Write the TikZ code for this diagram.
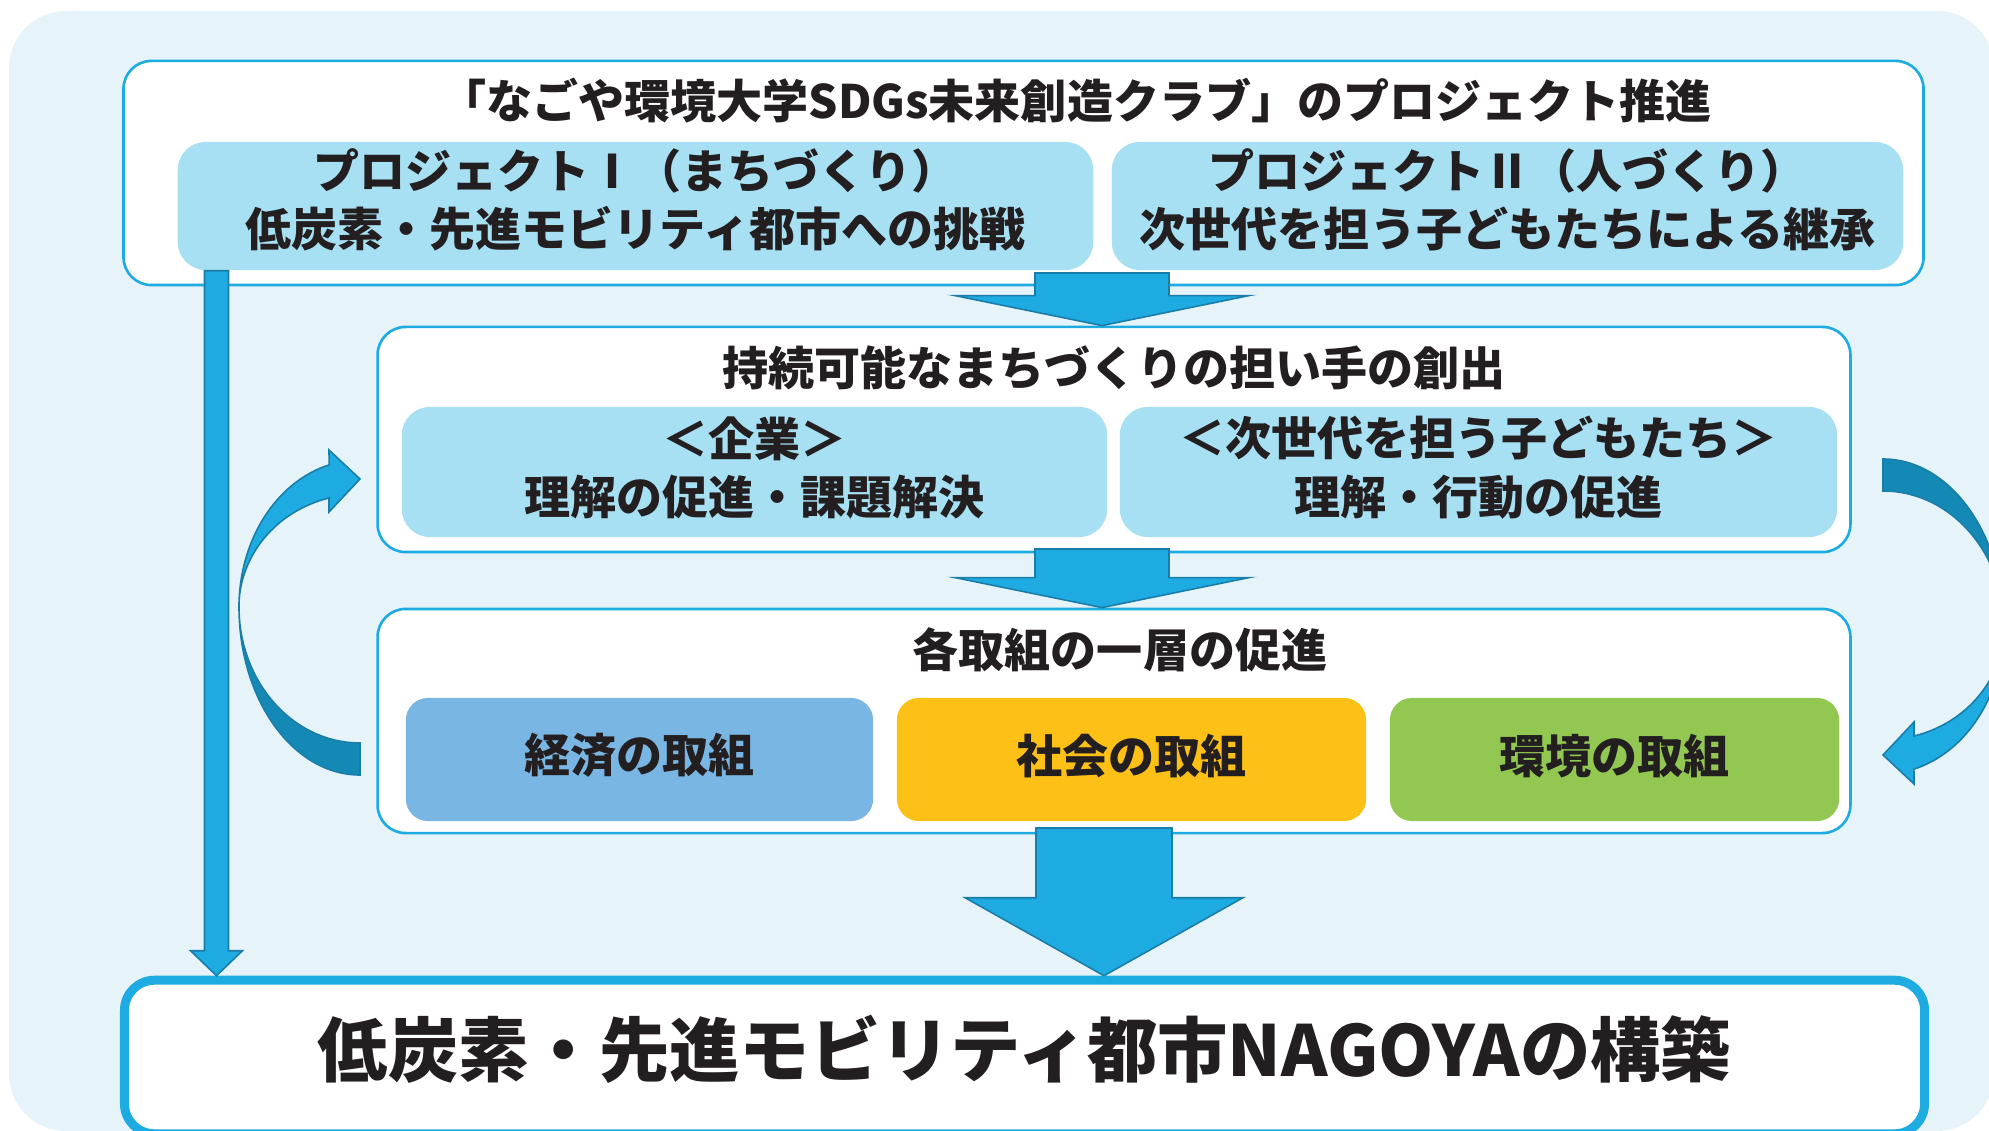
\documentclass[tikz,border=0pt]{standalone}
\usepackage{fontspec}
\setmainfont{Noto Sans CJK JP}
\usetikzlibrary{calc}

\definecolor{bgblue}{HTML}{E6F4FA}
\definecolor{lineblue}{HTML}{1EABE2}
\definecolor{paleblue}{HTML}{A7DFF3}
\definecolor{darkedge}{HTML}{1A7DA8}
\definecolor{darkfill}{HTML}{1589B5}
\definecolor{econblue}{HTML}{7AB6E4}
\definecolor{socyellow}{HTML}{FCC016}
\definecolor{envgreen}{HTML}{92C852}
\definecolor{inkblack}{HTML}{231F20}

\tikzset{
  frame/.style={draw=lineblue, line width=0.75pt, fill=white, rounded corners=0.28cm, inner sep=0pt},
  heading/.style={inner sep=0pt, text=inkblack, font=\fontsize{13.1pt}{16pt}\selectfont\bfseries},
  subbox/.style={fill=paleblue, rounded corners=0.28cm, inner sep=0pt},
  subtext/.style={inner sep=0pt, align=center, text=inkblack,
    font=\fontsize{13.1pt}{16.6pt}\selectfont\bfseries},
  theme/.style={rounded corners=0.22cm, inner sep=0pt, minimum height=1.23cm},
  goalbox/.style={draw=lineblue, line width=2.56pt, fill=white, rounded corners=0.3cm, inner sep=0pt},
  goaltext/.style={inner sep=0pt, text=inkblack, font=\fontsize{20pt}{24pt}\selectfont\bfseries},
  fatarrow/.style={fill=lineblue, draw=darkedge, line width=0.45pt, line join=miter},
}

% block arrow: tail, tip, half shaft, half head, head length
\newcommand{\blockarrow}[5]{%
  \draw[fatarrow] ($(#1)+(-#3,0)$) -- ($(#2)+(-#3,-#5)$) -- ($(#2)+(-#4,-#5)$) -- (#2)
    -- ($(#2)+(#4,-#5)$) -- ($(#2)+(#3,-#5)$) -- ($(#1)+(#3,0)$) -- cycle;}

% curved feedback arrow
\newcommand{\cyclearrow}[1]{%
  \begin{scope}[#1]
    \filldraw[fill=darkfill, draw=darkedge, line width=0.45pt]
      (360,775) arc[start angle=90, end angle=180, x radius=121, y radius=168]
      arc[start angle=180, end angle=90, x radius=121, y radius=136] -- cycle;
    \filldraw[fill=lineblue, draw=darkedge, line width=0.45pt]
      (239,607) arc[start angle=180, end angle=255.2, x radius=121, y radius=147]
      -- (329,450) -- (360,479) -- (329,512) -- (329,498)
      arc[start angle=255.2, end angle=180, x radius=121, y radius=113] -- cycle;
  \end{scope}}

\begin{document}
\begin{tikzpicture}[x=0.01cm, y=-0.01cm]
    \useasboundingbox (0,0) rectangle (1989,1131);
    \fill[bgblue, rounded corners=0.57cm] (9,11) rectangle (1994,1131);

    % projects
    \node[frame, minimum width=17.99cm, minimum height=2.24cm] (projects) at (1023.5,173) {};
    \node[heading] (projtitle) at (1076,101) {「なごや環境大学SDGs未来創造クラブ」のプロジェクト推進};
    \node[subbox, minimum width=9.15cm, minimum height=1.28cm] (proj1) at (635.5,206) {};
    \node[subtext] (proj1text) at ([yshift=1.7pt]proj1.center)
        {プロジェクトⅠ（まちづくり）\\低炭素・先進モビリティ都市への挑戦};
    \node[subbox, minimum width=7.91cm, minimum height=1.28cm] (proj2) at (1507.5,206) {};
    \node[subtext] (proj2text) at ([yshift=1.7pt]proj2.center)
        {プロジェクトⅡ（人づくり）\\次世代を担う子どもたちによる継承};

    % bearers
    \node[frame, minimum width=14.72cm, minimum height=2.25cm] (makers) at (1114,439.5) {};
    \node[heading] (makerstitle) at (1114,368) {持続可能なまちづくりの担い手の創出};
    \node[subbox, minimum width=7.05cm, minimum height=1.30cm] (firms) at (754.5,472) {};
    \node[subtext] (firmstext) at ([yshift=1.2pt]firms.center) {＜企業＞\\理解の促進・課題解決};
    \node[subbox, minimum width=7.17cm, minimum height=1.30cm] (kids) at (1478.5,472) {};
    \node[subtext] (kidstext) at ([yshift=1.2pt]kids.center) {＜次世代を担う子どもたち＞\\理解・行動の促進};

    % efforts
    \node[frame, minimum width=14.72cm, minimum height=2.24cm] (efforts) at (1114,721) {};
    \node[heading] (effortstitle) at (1120,650) {各取組の一層の促進};
    \node[theme, fill=econblue, minimum width=4.67cm] (economy) at (639.5,759.5) {};
    \node[theme, fill=socyellow, minimum width=4.69cm] (society) at (1131.5,759.5) {};
    \node[theme, fill=envgreen, minimum width=4.49cm] (environment) at (1614.5,759.5) {};
    \node[heading] at ([yshift=1.1pt]economy.center) {経済の取組};
    \node[heading] at ([yshift=1.1pt]society.center) {社会の取組};
    \node[heading] at ([yshift=1.1pt]environment.center) {環境の取組};

    % goal
    \node[goalbox, minimum width=17.99cm, minimum height=1.535cm] (goal) at (1024.5,1057) {};
    \node[goaltext] (goaltext) at ([yshift=2.3pt]goal.center) {低炭素・先進モビリティ都市NAGOYAの構築};

    % arrows
    \coordinate (a1) at (1102,273);
    \coordinate (a2) at (1102,549);
    \coordinate (a3) at (1104,828);
    \coordinate (drop) at (216.5,0);
    \blockarrow{a1}{a1 |- makers.north}{67}{147}{30}
    \blockarrow{a2}{a2 |- efforts.north}{67}{147}{30}
    \blockarrow{a3}{a3 |- goal.north}{68}{139}{78}
    \blockarrow{drop |- proj1.south}{drop |- goal.north}{12}{26}{25}

    \cyclearrow{}
    \cyclearrow{rotate around={180:(1121.5,617)}}
\end{tikzpicture}
\end{document}
